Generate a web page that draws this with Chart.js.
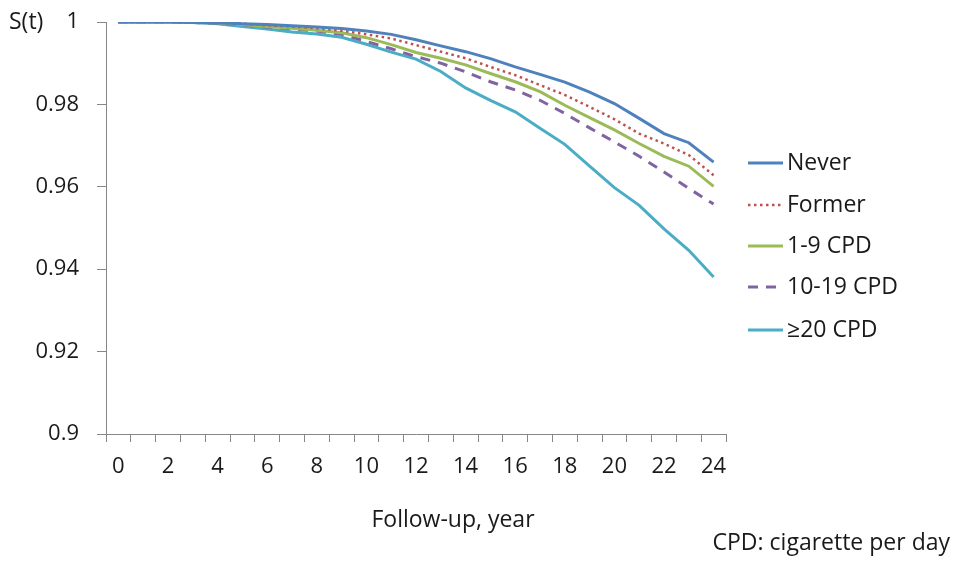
<!DOCTYPE html>
<html>
<head>
<meta charset="utf-8">
<script src="https://cdn.jsdelivr.net/npm/chart.js@4/dist/chart.umd.min.js"></script>
<style>
  html, body { margin: 0; padding: 0; background: #fff; }
  #wrap { width: 956px; height: 561px; }
</style>
</head>
<body>
<div id="wrap"><canvas id="survChart" width="956" height="561"></canvas></div>
<script>
// 追跡年数
const years = ['0','1','2','3','4','5','6','7','8','9','10','11','12','13','14','15','16','17','18','19','20','21','22','23','24'];

// 各群の生存率 S(t)
const never   = [1, 1, 1, 0.9999, 0.9998, 0.9996, 0.9994, 0.9991, 0.9988, 0.9984, 0.9978, 0.9970, 0.9957, 0.9942, 0.9928, 0.9911, 0.9891, 0.9873, 0.9854, 0.9830, 0.9802, 0.9766, 0.9729, 0.9707, 0.9660];
const former  = [1, 1, 1, 0.9999, 0.9998, 0.9996, 0.9992, 0.9989, 0.9985, 0.9979, 0.9970, 0.9960, 0.9944, 0.9928, 0.9912, 0.9891, 0.9871, 0.9847, 0.9823, 0.9794, 0.9764, 0.9729, 0.9705, 0.9677, 0.9628];
const cpd1_9  = [1, 1, 1, 0.9999, 0.9998, 0.9994, 0.9989, 0.9985, 0.9980, 0.9974, 0.9962, 0.9945, 0.9926, 0.9912, 0.9896, 0.9875, 0.9855, 0.9831, 0.9798, 0.9768, 0.9738, 0.9705, 0.9674, 0.9650, 0.9601];
const cpd10_19 = [1, 1, 1, 0.9999, 0.9997, 0.9993, 0.9988, 0.9983, 0.9978, 0.9970, 0.9953, 0.9935, 0.9916, 0.9900, 0.9879, 0.9855, 0.9835, 0.9810, 0.9778, 0.9743, 0.9709, 0.9674, 0.9636, 0.9596, 0.9558];
const cpd20   = [1, 1, 1, 0.9999, 0.9996, 0.9989, 0.9983, 0.9976, 0.9971, 0.9963, 0.9946, 0.9927, 0.9910, 0.9880, 0.9840, 0.9810, 0.9782, 0.9742, 0.9703, 0.9650, 0.9598, 0.9555, 0.9498, 0.9446, 0.9381];

const FONT = '"Open Sans", "Noto Sans", sans-serif';
const TEXT = '#1a1a1a';
const AXIS = '#878787';

// 凡例と注釈を描くプラグイン
const extras = {
    id: 'extras',
    afterDraw(chart) {
        const c = chart.ctx;
        c.save();
        c.font = '23px ' + FONT;
        c.fillStyle = TEXT;
        c.textBaseline = 'middle';

        // 凡例
        const rows = [163, 205, 246, 287, 330];
        chart.data.datasets.forEach((ds, i) => {
            const y = rows[i];
            c.beginPath();
            c.strokeStyle = ds.borderColor;
            c.lineWidth = ds.borderWidth;
            c.setLineDash(ds.borderDash || []);
            c.moveTo(748, y);
            c.lineTo(783, y);
            c.stroke();
            c.setLineDash([]);
            c.textAlign = 'left';
            c.fillText(ds.label, 787, y);
        });

        // 軸ラベル
        c.textAlign = 'left';
        c.fillText('S(t)', 9, 22);
        c.textAlign = 'center';
        c.fillText('Follow-up, year', 453, 520);
        c.textAlign = 'right';
        c.fillText('CPD: cigarette per day', 950, 543);
        c.restore();
    }
};

const ctx = document.getElementById('survChart').getContext('2d');
const survChart = new Chart(ctx, {
    type: 'line',
    data: {
        labels: years,
        datasets: [
            { label: 'Never', data: never, borderColor: '#4F81BD', borderWidth: 3 },
            { label: 'Former', data: former, borderColor: '#C0504D', borderWidth: 2.5, borderDash: [2.5, 3.5] },
            { label: '1-9 CPD', data: cpd1_9, borderColor: '#9BBB59', borderWidth: 3 },
            { label: '10-19 CPD', data: cpd10_19, borderColor: '#8064A2', borderWidth: 3, borderDash: [10, 8] },
            { label: '≥20 CPD', data: cpd20, borderColor: '#4BACC6', borderWidth: 3 }
        ]
    },
    options: {
        responsive: false,
        animation: false,
        devicePixelRatio: 1,
        layout: { padding: { left: 0, right: 230, top: 22, bottom: 0 } },
        elements: {
            point: { radius: 0 },
            line: { tension: 0, fill: false, borderCapStyle: 'butt' }
        },
        plugins: {
            legend: { display: false },
            tooltip: { enabled: false }
        },
        scales: {
            x: {
                type: 'category',
                offset: true,
                afterFit(scale) { scale.height = 561 - 434; },
                grid: { offset: true, drawOnChartArea: false, tickLength: 8, color: AXIS, lineWidth: 1 },
                border: { color: AXIS, width: 1 },
                ticks: {
                    autoSkip: false,
                    maxRotation: 0,
                    padding: 12,
                    color: TEXT,
                    font: { family: FONT, size: 22 },
                    callback(val, i) { return i % 2 === 0 ? this.getLabelForValue(val) : ''; }
                }
            },
            y: {
                min: 0.9,
                max: 1,
                afterFit(scale) {
                    scale.width = 106;
                    scale.paddingTop = 0;
                    scale.paddingBottom = 0;
                },
                grid: { drawOnChartArea: false, tickLength: 9, color: AXIS, lineWidth: 1 },
                border: { color: AXIS, width: 1 },
                ticks: {
                    stepSize: 0.02,
                    padding: 18,
                    color: TEXT,
                    font: { family: FONT, size: 22 },
                    callback(v) { return String(Math.round(v * 100) / 100); }
                }
            }
        }
    },
    plugins: [extras]
});
</script>
</body>
</html>
